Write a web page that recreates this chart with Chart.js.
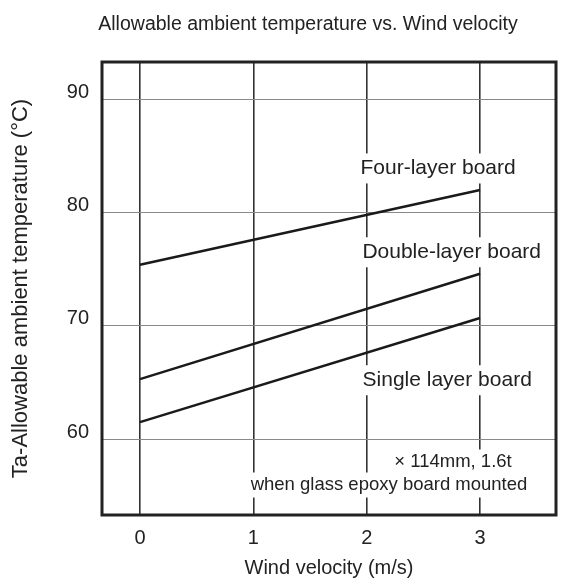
<!DOCTYPE html>
<html>
<head>
<meta charset="utf-8">
<script src="https://cdn.jsdelivr.net/npm/chart.js@4.4.1/dist/chart.umd.min.js"></script>
<style>
    html, body { margin: 0; padding: 0; background: #fff; }
    canvas { display: block; }
</style>
</head>
<body>
<canvas id="windChart" width="568" height="578"></canvas>
<script>
// Données
const windVelocity = [0, 3];
const fourLayer = [75.4, 82.0];
const doubleLayer = [65.3, 74.6];
const singleLayer = [61.5, 70.7];
const xTicks = [0, 1, 2, 3];
const yTicks = [60, 70, 80, 90];
const seriesNames = ['Four-layer board', 'Double-layer board', 'Single layer board'];
const noteLines = ['\u00d7 114mm, 1.6t', 'when glass epoxy board mounted'];

const ink = '#222';
const fontFamily = "'Liberation Sans', Arial, sans-serif";

Chart.defaults.font.family = fontFamily;
Chart.defaults.font.size = 20;
Chart.defaults.color = ink;

function toPoints(values) {
    return windVelocity.map((v, i) => ({ x: v, y: values[i] }));
}

// Texte sur fond blanc (coupe les lignes verticales comme sur l'original)
function boxedText(ctx, text, cx, cy, h) {
    const w = ctx.measureText(text).width + 6;
    ctx.fillStyle = '#fff';
    ctx.fillRect(cx - w / 2, cy - h / 2, w, h);
    ctx.fillStyle = ink;
    ctx.fillText(text, cx, cy);
}

const decorations = {
    id: 'decorations',
    afterDatasetsDraw(chart) {
        const { ctx, chartArea: a, scales: { x, y } } = chart;
        ctx.save();
        ctx.textAlign = 'center';
        ctx.textBaseline = 'middle';

        // étiquettes des séries (en unités de données)
        ctx.font = '21px ' + fontFamily;
        const spots = [[2.63, 83.9], [2.75, 76.5], [2.71, 65.2]];
        seriesNames.forEach((name, i) => {
            boxedText(ctx, name, x.getPixelForValue(spots[i][0]), y.getPixelForValue(spots[i][1]), 30);
        });

        // note en bas à droite
        ctx.font = '18.5px ' + fontFamily;
        boxedText(ctx, noteLines[0], 453, 462, 25);
        boxedText(ctx, noteLines[1], 389, 485, 25);

        // cadre
        ctx.strokeStyle = '#222';
        ctx.lineWidth = 3;
        ctx.strokeRect(a.left, a.top, a.right - a.left, a.bottom - a.top);

        // titre
        ctx.font = '19.5px ' + fontFamily;
        ctx.fillStyle = ink;
        ctx.fillText('Allowable ambient temperature vs. Wind velocity', 308, 25);
        ctx.restore();
    }
};

const lineStyle = {
    borderColor: '#1a1a1a',
    borderWidth: 2.5,
    pointRadius: 0,
    tension: 0,
    fill: false
};

new Chart(document.getElementById('windChart'), {
    type: 'line',
    data: {
        datasets: [
            { label: seriesNames[0], data: toPoints(fourLayer), ...lineStyle },
            { label: seriesNames[1], data: toPoints(doubleLayer), ...lineStyle },
            { label: seriesNames[2], data: toPoints(singleLayer), ...lineStyle }
        ]
    },
    options: {
        responsive: false,
        animation: false,
        devicePixelRatio: 1,
        layout: { padding: { top: 62, right: 12, left: 0, bottom: 0 } },
        plugins: {
            legend: { display: false },
            tooltip: { enabled: false }
        },
        scales: {
            x: {
                type: 'linear',
                min: -0.335,
                max: 3.67,
                afterBuildTicks: scale => { scale.ticks = xTicks.map(v => ({ value: v })); },
                afterFit: scale => { scale.height = 63; },
                grid: { color: '#333', lineWidth: 1.6, drawTicks: false },
                border: { display: false },
                ticks: { padding: 11, color: ink, font: { size: 20 } },
                title: {
                    display: true,
                    text: 'Wind velocity (m/s)',
                    color: ink,
                    font: { size: 20, lineHeight: 1 },
                    padding: { top: 0, bottom: 0 }
                }
            },
            y: {
                type: 'linear',
                min: 53.3,
                max: 93.3,
                afterBuildTicks: scale => { scale.ticks = yTicks.map(v => ({ value: v })); },
                afterFit: scale => { scale.width = 102; },
                grid: { color: '#888', lineWidth: 1, drawTicks: false },
                border: { display: false },
                ticks: { padding: 13, labelOffset: -7, color: ink, font: { size: 20 } },
                title: {
                    display: true,
                    text: 'Ta-Allowable ambient temperature (\u00b0C)',
                    color: ink,
                    font: { size: 22, lineHeight: 1.2 },
                    padding: { top: 8, bottom: 0 }
                }
            }
        }
    },
    plugins: [decorations]
});
</script>
</body>
</html>
